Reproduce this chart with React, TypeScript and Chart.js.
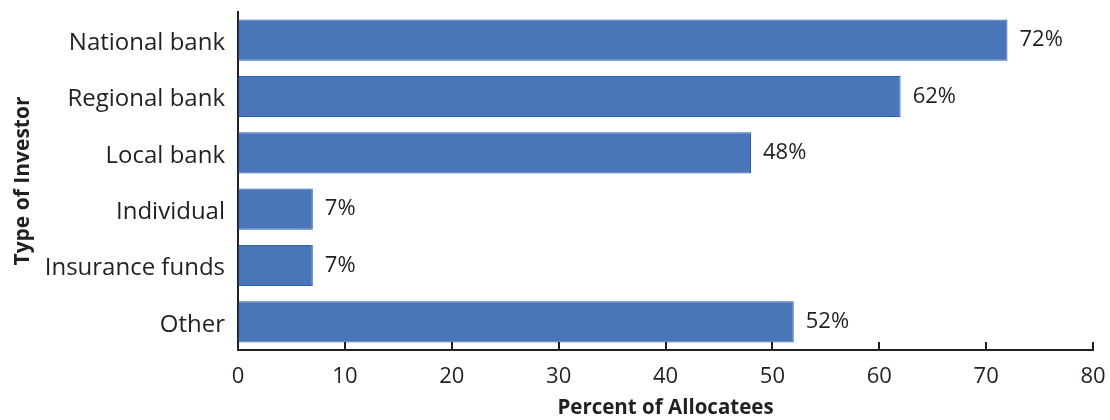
import React, { useEffect, useRef } from "react";
import { Chart, registerables } from "chart.js";

Chart.register(...registerables);

const categories = ["National bank", "Regional bank", "Local bank", "Individual", "Insurance funds", "Other"];
const values = [72, 62, 48, 7, 7, 52];
const xTicks = [0, 10, 20, 30, 40, 50, 60, 70, 80];
const xTitle = "Percent of Allocatees";
const yTitle = "Type of Investor";

const FONT = "'Open Sans', 'Noto Sans', sans-serif";
const TEXT = "#231f20";

const valueLabels = {
  id: "valueLabels",
  afterDatasetsDraw(chart: any) {
    const ctx = chart.ctx;
    const meta = chart.getDatasetMeta(0);
    ctx.save();
    ctx.font = `22px ${FONT}`;
    ctx.fillStyle = TEXT;
    ctx.textAlign = "left";
    ctx.textBaseline = "middle";
    meta.data.forEach((bar: any, i: number) => {
      ctx.fillText(values[i] + "%", bar.x + 12, bar.y);
    });
    ctx.restore();
  },
};

const innerTicks = {
  id: "innerTicks",
  afterDraw(chart: any) {
    const ctx = chart.ctx;
    const xs = chart.scales.x;
    const bottom = chart.chartArea.bottom;
    ctx.save();
    ctx.strokeStyle = "#231f20";
    ctx.lineWidth = 2;
    xTicks.forEach((t) => {
      const px = Math.round(xs.getPixelForValue(t));
      ctx.beginPath();
      ctx.moveTo(px, bottom);
      ctx.lineTo(px, bottom - 8);
      ctx.stroke();
    });
    ctx.restore();
  },
};

export default function App() {
  const ref = useRef<HTMLCanvasElement>(null);
  useEffect(() => {
    const chart = new Chart(ref.current!, {
      type: "bar",
      data: {
        labels: categories,
        datasets: [
          {
            data: values,
            backgroundColor: "#4876b9",
            borderColor: "#2c63b0",
            borderWidth: 1,
            barPercentage: 0.73,
            categoryPercentage: 1,
          },
        ],
      },
      options: {
        indexAxis: "y",
        responsive: false,
        animation: false,
        layout: { padding: { top: 12, right: 17, left: 0, bottom: 0 } },
        plugins: { legend: { display: false }, tooltip: { enabled: false } },
        scales: {
          x: {
            min: 0,
            max: 80,
            afterBuildTicks: (s: any) => {
              s.ticks = xTicks.map((v) => ({ value: v }));
            },
            afterFit: (s: any) => {
              s.height = 70;
              s.paddingLeft = 0;
              s.paddingRight = 0;
            },
            grid: { display: true, drawOnChartArea: false, drawTicks: false },
            border: { display: true, color: "#231f20", width: 2 },
            ticks: {
              padding: 14,
              color: TEXT,
              font: { family: FONT, size: 22 },
              maxRotation: 0,
            },
            title: {
              display: true,
              text: xTitle,
              color: TEXT,
              font: { family: FONT, size: 20.5, weight: "bold" },
              padding: { top: 0, bottom: 0 },
            },
          },
          y: {
            afterFit: (s: any) => {
              s.width = 238;
              s.paddingTop = 0;
              s.paddingBottom = 0;
            },
            grid: { display: false, drawTicks: false },
            border: { display: true, color: "#231f20", width: 2 },
            ticks: {
              padding: 13,
              labelOffset: 3,
              color: TEXT,
              font: { family: FONT, size: 24 },
            },
            title: {
              display: true,
              text: yTitle,
              color: TEXT,
              font: { family: FONT, size: 21, weight: "bold" },
              padding: { top: 10, bottom: 0 },
            },
          },
        },
      },
      plugins: [valueLabels, innerTicks],
    });
    return () => chart.destroy();
  }, []);
  return (
    <div style={{ position: "fixed", left: 0, top: 0, width: 1110, height: 420, background: "#fff" }}>
      <canvas ref={ref} width={1110} height={420} style={{ width: 1110, height: 420 }} />
    </div>
  );
}
